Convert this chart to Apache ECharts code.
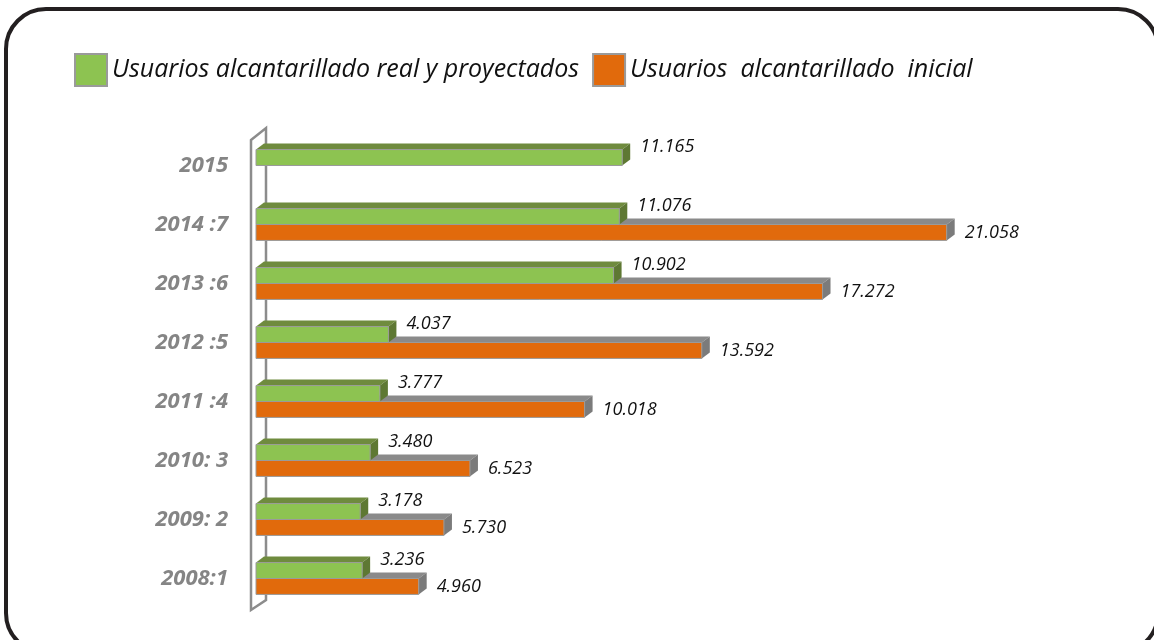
<!DOCTYPE html>
<html>
<head>
<meta charset="utf-8">
<script src="https://cdn.jsdelivr.net/npm/echarts@6/dist/echarts.min.js"></script>
<style>
  html, body { margin: 0; padding: 0; background: #fff; }
  #chart { width: 1154px; height: 640px; }
</style>
</head>
<body>
<div id="chart"></div>
<script>
// categorías (de abajo hacia arriba)
const categories = ['2008:1', '2009: 2', '2010: 3', '2011 :4', '2012 :5', '2013 :6', '2014 :7', '2015']
// usuarios alcantarillado real y proyectados
const realValues = [3236, 3178, 3480, 3777, 4037, 10902, 11076, 11165]
// usuarios alcantarillado inicial
const initialValues = [4960, 5730, 6523, 10018, 13592, 17272, 21058, null]

const seriesNames = ['Usuarios alcantarillado real y proyectados', 'Usuarios  alcantarillado  inicial']

const fmt = v => (v / 1000).toFixed(3)

// barra con efecto 3D (cara frontal, superior y lateral)
function bar3d(colors, upper) {
  return function (params, api) {
    const v = api.value(0)
    if (v == null || isNaN(v)) return
    const start = api.coord([0, api.value(1)])
    const end = api.coord([v, api.value(1)])
    const band = api.size([0, 1])[1]
    const h = band * 0.27
    const dx = 8
    const dy = 6
    const x0 = start[0]
    const x1 = end[0]
    const y0 = upper ? start[1] - h : start[1]
    const y1 = y0 + h
    return {
      type: 'group',
      children: [
        {
          type: 'polygon',
          shape: { points: [[x0, y0], [x0 + dx, y0 - dy], [x1 + dx, y0 - dy], [x1, y0]] },
          style: { fill: colors.top },
        },
        {
          type: 'polygon',
          shape: { points: [[x1, y0], [x1 + dx, y0 - dy], [x1 + dx, y1 - dy], [x1, y1]] },
          style: { fill: colors.side },
        },
        {
          type: 'rect',
          shape: { x: x0, y: y0, width: x1 - x0, height: h },
          style: { fill: colors.front, stroke: '#9a9a9a', lineWidth: 1 },
        },
        {
          type: 'text',
          x: x1 + 18,
          y: upper ? y0 - 3 : y0 + 8,
          style: {
            text: fmt(v),
            fill: '#111',
            font: 'italic 18px "Open Sans"',
            align: 'left',
            verticalAlign: 'middle',
          },
        },
      ],
    }
  }
}

const chart = echarts.init(document.getElementById('chart'))
const option = {
  backgroundColor: '#fff',
  animation: false,
  legend: {
    data: seriesNames,
    left: 69,
    top: 48,
    icon: 'rect',
    itemWidth: 32,
    itemHeight: 32,
    itemGap: 13,
    textStyle: {
      fontFamily: 'Open Sans',
      fontStyle: 'italic',
      fontSize: 25,
      color: '#111',
      padding: [0, 0, 0, 0],
    },
  },
  grid: {
    left: 256,
    right: 78,
    top: 136,
    bottom: 32,
  },
  xAxis: {
    type: 'value',
    min: 0,
    max: 25000,
    show: false,
  },
  yAxis: {
    type: 'category',
    data: categories,
    axisLine: { show: false },
    axisTick: { show: false },
    splitLine: { show: false },
    axisLabel: {
      margin: 28,
      color: '#858585',
      fontFamily: 'Open Sans',
      fontStyle: 'italic',
      fontWeight: 'bold',
      fontSize: 22,
    },
  },
  graphic: [
    {
      type: 'rect',
      z: 0,
      shape: { x: 6, y: 9, width: 1152, height: 644, r: 40 },
      style: { fill: 'none', stroke: '#231f20', lineWidth: 4 },
    },
    {
      type: 'polygon',
      z: 0,
      shape: { points: [[251, 140], [266, 128], [266, 600], [251, 610]] },
      style: { fill: 'none', stroke: '#8c8c8c', lineWidth: 2.5 },
    },
  ],
  series: [
    {
      name: seriesNames[0],
      type: 'custom',
      z: 4,
      itemStyle: { color: '#8dc351', borderColor: '#9a9a9a', borderWidth: 1.5 },
      renderItem: bar3d({ front: '#8dc351', top: '#6f8b3e', side: '#5e7833' }, true),
      encode: { x: 0, y: 1 },
      data: realValues.map((v, i) => [v, i]),
    },
    {
      name: seriesNames[1],
      type: 'custom',
      z: 3,
      itemStyle: { color: '#e16a0c', borderColor: '#9a9a9a', borderWidth: 1.5 },
      renderItem: bar3d({ front: '#e16a0c', top: '#8a8a8a', side: '#7b7b7b' }, false),
      encode: { x: 0, y: 1 },
      data: initialValues.map((v, i) => [v, i]),
    },
  ],
}
chart.setOption(option)
</script>
</body>
</html>
